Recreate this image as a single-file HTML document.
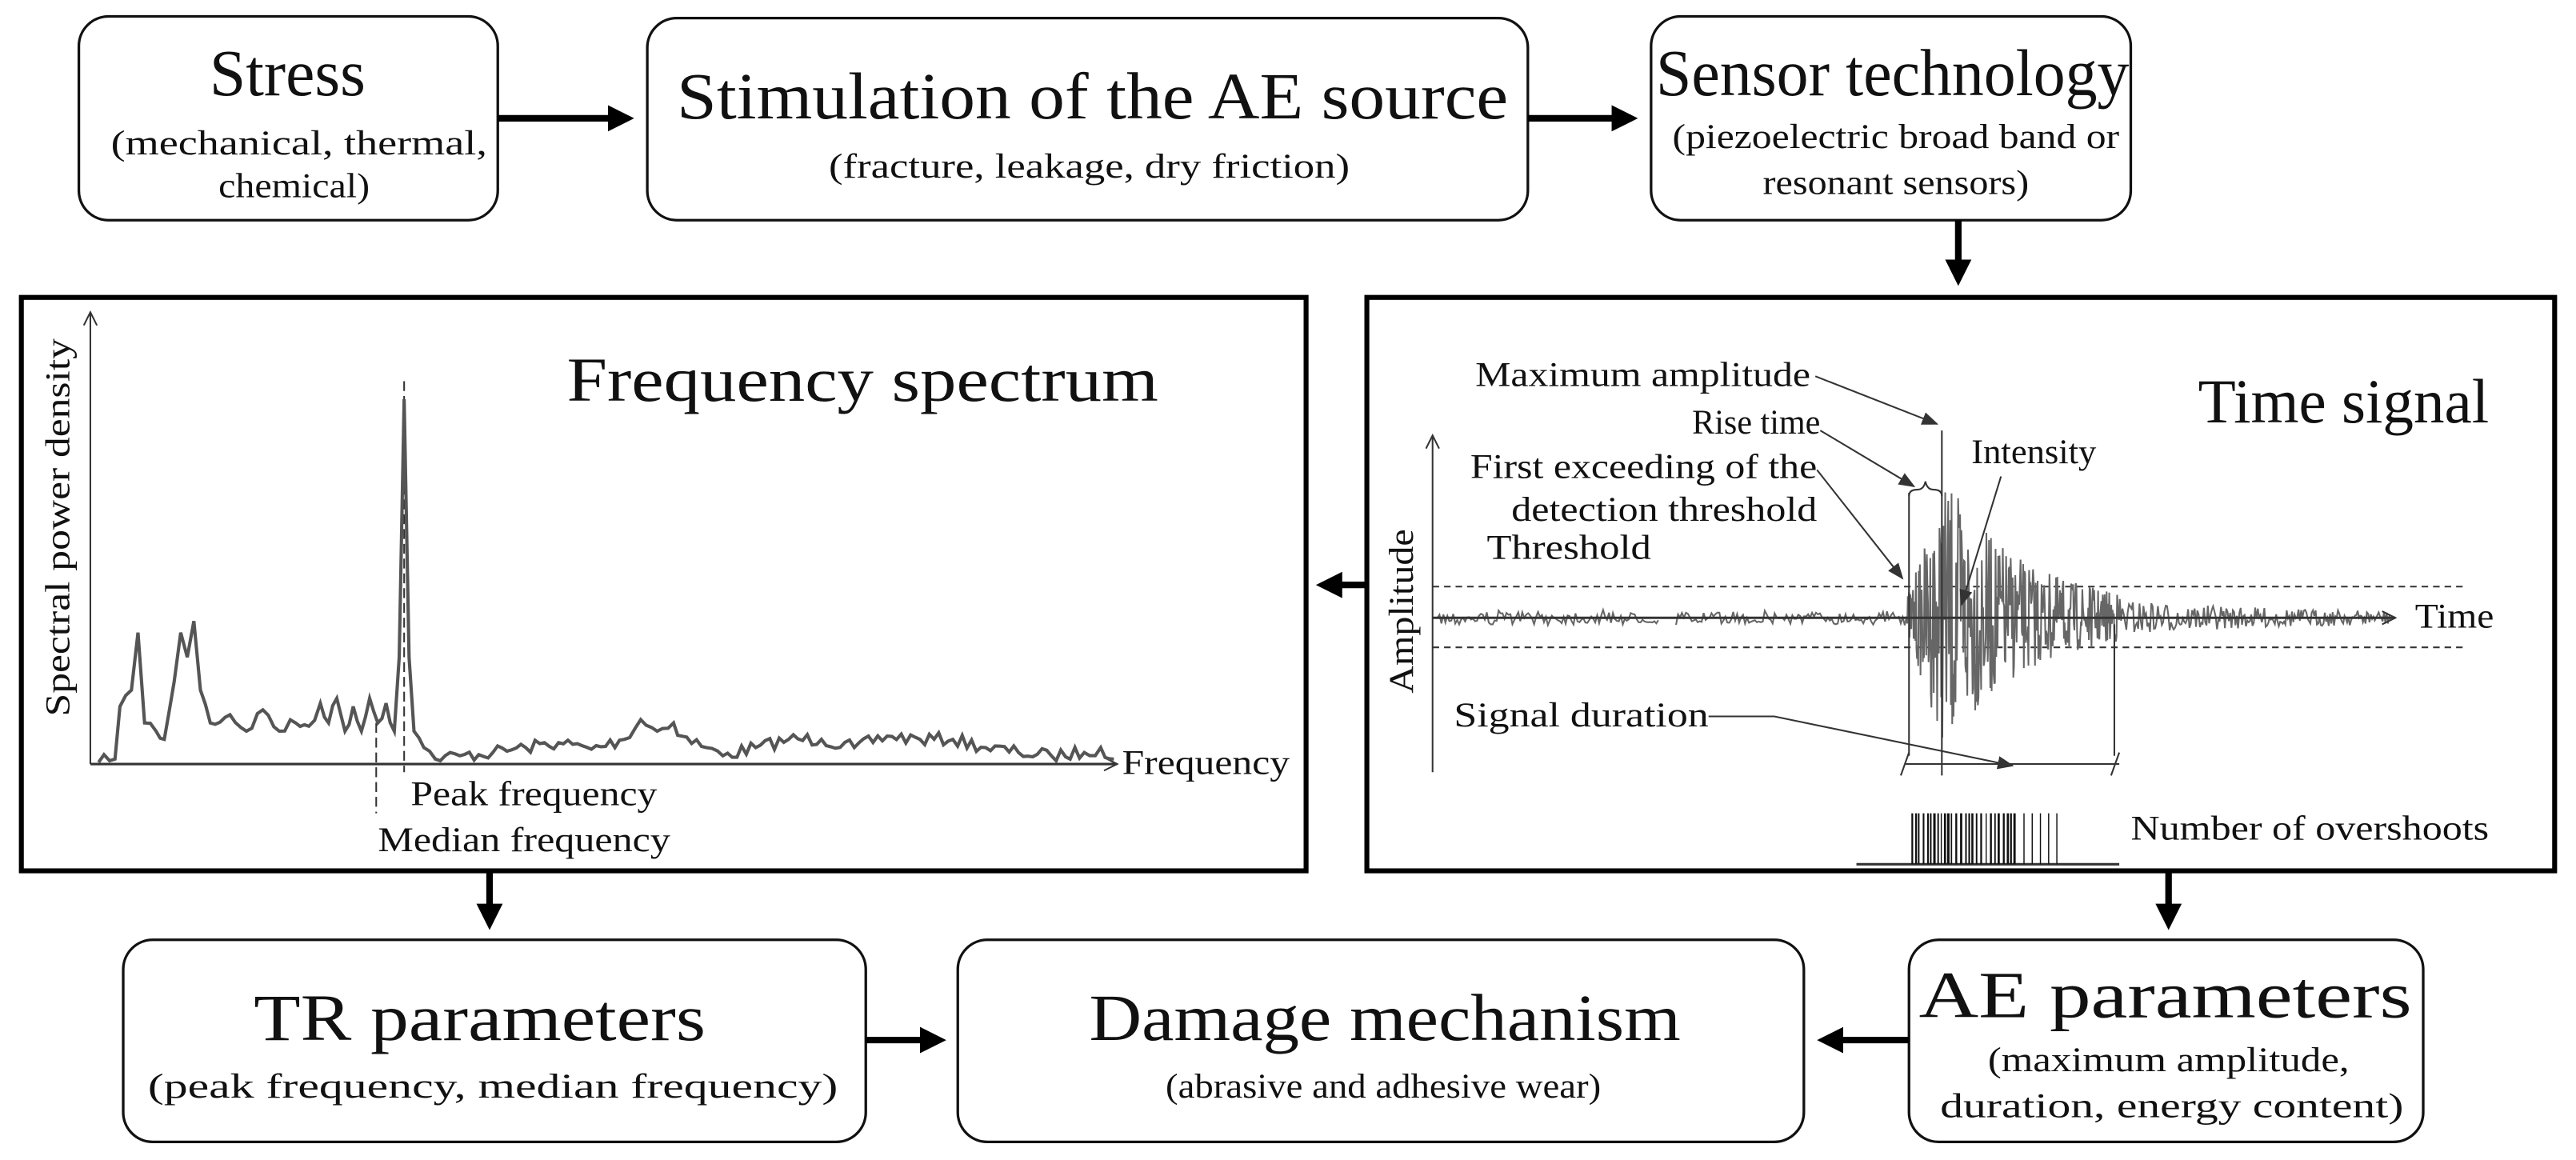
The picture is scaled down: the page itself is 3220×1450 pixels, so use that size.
<!DOCTYPE html>
<html><head><meta charset="utf-8"><style>
html,body{margin:0;padding:0;background:#fff;}
svg{display:block;}
text{font-family:"Liberation Serif",serif;fill:#111;}
</style></head><body>
<svg id="s" width="3220" height="1450" viewBox="0 0 1568 706" preserveAspectRatio="none" xmlns="http://www.w3.org/2000/svg">
<defs>
<marker id="ah" markerWidth="4" markerHeight="4" refX="2" refY="2" orient="auto" markerUnits="strokeWidth"><path d="M0,0 L4,2 L0,4 z" fill="#000"/></marker>
<marker id="sa" markerWidth="10" markerHeight="10" refX="9" refY="5" orient="auto" markerUnits="userSpaceOnUse"><path d="M0,1 L10,5 L0,9 z" fill="#333"/></marker>
<marker id="oa" markerWidth="10" markerHeight="10" refX="9" refY="5" orient="auto" markerUnits="userSpaceOnUse"><path d="M1,1 L9,5 L1,9" fill="none" stroke="#333" stroke-width="1"/></marker>
</defs>
<g fill="#fff" stroke="#111" stroke-width="1.6">
<rect x="48" y="10" width="255" height="124" rx="18"/>
<rect x="394" y="11" width="536" height="123" rx="18"/>
<rect x="1005" y="10" width="292" height="124" rx="18"/>
<rect x="75" y="572" width="452" height="123" rx="18"/>
<rect x="583" y="572" width="515" height="123" rx="18"/>
<rect x="1162" y="572" width="313" height="123" rx="18"/>
</g>
<g fill="none" stroke="#000" stroke-width="3">
<rect x="13" y="181" width="782" height="349"/>
<rect x="832" y="181" width="723" height="349"/>
</g>
<g stroke="#000" stroke-width="4" fill="none">
<line x1="303" y1="72" x2="378" y2="72" marker-end="url(#ah)"/>
<line x1="930" y1="72" x2="989" y2="72" marker-end="url(#ah)"/>
<line x1="1192" y1="134" x2="1192" y2="166" marker-end="url(#ah)"/>
<line x1="832" y1="356" x2="809" y2="356" marker-end="url(#ah)"/>
<line x1="298" y1="530" x2="298" y2="558" marker-end="url(#ah)"/>
<line x1="1320" y1="530" x2="1320" y2="558" marker-end="url(#ah)"/>
<line x1="527" y1="633" x2="568" y2="633" marker-end="url(#ah)"/>
<line x1="1162" y1="633" x2="1114" y2="633" marker-end="url(#ah)"/>
</g>
<g text-anchor="middle">
<text x="175" y="58" font-size="40" textLength="95" lengthAdjust="spacingAndGlyphs">Stress</text>
<text x="182" y="94" font-size="21" textLength="229" lengthAdjust="spacingAndGlyphs">(mechanical, thermal,</text>
<text x="179" y="120" font-size="21" textLength="92" lengthAdjust="spacingAndGlyphs">chemical)</text>
<text x="665" y="72" font-size="40" textLength="506" lengthAdjust="spacingAndGlyphs">Stimulation of the AE source</text>
<text x="663" y="108" font-size="21" textLength="317" lengthAdjust="spacingAndGlyphs">(fracture, leakage, dry friction)</text>
<text x="1152" y="58" font-size="40" textLength="288" lengthAdjust="spacingAndGlyphs">Sensor technology</text>
<text x="1154" y="90" font-size="21" textLength="272" lengthAdjust="spacingAndGlyphs">(piezoelectric broad band or</text>
<text x="1154" y="118" font-size="21" textLength="162" lengthAdjust="spacingAndGlyphs">resonant sensors)</text>
<text x="292" y="633" font-size="40" textLength="275" lengthAdjust="spacingAndGlyphs">TR parameters</text>
<text x="300" y="668" font-size="21" textLength="420" lengthAdjust="spacingAndGlyphs">(peak frequency, median frequency)</text>
<text x="843" y="633" font-size="40" textLength="360" lengthAdjust="spacingAndGlyphs">Damage mechanism</text>
<text x="842" y="668" font-size="21" textLength="265" lengthAdjust="spacingAndGlyphs">(abrasive and adhesive wear)</text>
<text x="1318" y="619" font-size="40" textLength="300" lengthAdjust="spacingAndGlyphs">AE parameters</text>
<text x="1320" y="652" font-size="21" textLength="220" lengthAdjust="spacingAndGlyphs">(maximum amplitude,</text>
<text x="1322" y="680" font-size="21" textLength="282" lengthAdjust="spacingAndGlyphs">duration, energy content)</text>
</g>
<g stroke="#333" stroke-width="1" fill="none">
<line x1="55" y1="465" x2="55" y2="190" marker-end="url(#oa)"/>
<line x1="55" y1="465" x2="680" y2="465" marker-end="url(#oa)" stroke-width="1.5"/>
<line x1="246" y1="232" x2="246" y2="470" stroke-dasharray="6,3"/>
<line x1="229" y1="440" x2="229" y2="495" stroke-dasharray="6,3"/>
</g>
<path id="spec" fill="none" stroke="#555" stroke-width="2"/>
<text x="345" y="244" font-size="38" textLength="360" lengthAdjust="spacingAndGlyphs">Frequency spectrum</text>
<text x="683" y="471" font-size="21" textLength="102" lengthAdjust="spacingAndGlyphs">Frequency</text>
<text x="250" y="490" font-size="21" textLength="150" lengthAdjust="spacingAndGlyphs">Peak frequency</text>
<text x="230" y="518" font-size="21" textLength="178" lengthAdjust="spacingAndGlyphs">Median frequency</text>
<text transform="translate(42,321) rotate(-90)" text-anchor="middle" font-size="21" textLength="230" lengthAdjust="spacingAndGlyphs">Spectral power density</text>
<g stroke="#333" stroke-width="1" fill="none">
<line x1="872" y1="470" x2="872" y2="265" marker-end="url(#oa)"/>
<line x1="872" y1="357" x2="1500" y2="357" stroke-dasharray="4,3"/>
<line x1="872" y1="394" x2="1500" y2="394" stroke-dasharray="4,3"/>
</g>
<path id="sig" fill="none" stroke="#666" stroke-width="1"/>
<g stroke="#333" stroke-width="1" fill="none">
<line x1="872" y1="376" x2="1458" y2="376" stroke-width="1.5" marker-end="url(#oa)"/>
<line x1="1162" y1="300" x2="1162" y2="460"/>
<line x1="1182" y1="262" x2="1182" y2="472"/>
<line x1="1287" y1="380" x2="1287" y2="460"/>
<line x1="1160" y1="465" x2="1290" y2="465"/>
<line x1="1157" y1="472" x2="1162" y2="458"/>
<line x1="1285" y1="472" x2="1290" y2="458"/>
<path d="M1162,302 q0,-4 5,-4 q4,0 5,-5 q1,5 5,5 q5,0 5,4"/>
<line x1="1105" y1="229" x2="1179" y2="258" marker-end="url(#sa)"/>
<line x1="1108" y1="262" x2="1165" y2="296" marker-end="url(#sa)"/>
<line x1="1106" y1="286" x2="1158" y2="352" marker-end="url(#sa)"/>
<line x1="1218" y1="290" x2="1194" y2="368" marker-end="url(#sa)"/>
<polyline points="1040,436 1080,436 1225,466" marker-end="url(#sa)"/>
<line x1="1130" y1="526" x2="1290" y2="526" stroke-width="1.5"/>
</g>
<g id="bars" stroke="#111" stroke-width="1"></g>
<text x="1338" y="257" font-size="38" textLength="177" lengthAdjust="spacingAndGlyphs">Time signal</text>
<text x="1102" y="235" text-anchor="end" font-size="21" textLength="204" lengthAdjust="spacingAndGlyphs">Maximum amplitude</text>
<text x="1108" y="264" text-anchor="end" font-size="21" textLength="78" lengthAdjust="spacingAndGlyphs">Rise time</text>
<text x="1106" y="291" text-anchor="end" font-size="21" textLength="211" lengthAdjust="spacingAndGlyphs">First exceeding of the</text>
<text x="1106" y="317" text-anchor="end" font-size="21" textLength="186" lengthAdjust="spacingAndGlyphs">detection threshold</text>
<text x="1200" y="282" font-size="21" textLength="76" lengthAdjust="spacingAndGlyphs">Intensity</text>
<text x="905" y="340" font-size="21" textLength="100" lengthAdjust="spacingAndGlyphs">Threshold</text>
<text x="1470" y="382" font-size="21" textLength="48" lengthAdjust="spacingAndGlyphs">Time</text>
<text x="885" y="442" font-size="21" textLength="155" lengthAdjust="spacingAndGlyphs">Signal duration</text>
<text x="1297" y="511" font-size="21" textLength="218" lengthAdjust="spacingAndGlyphs">Number of overshoots</text>
<text transform="translate(860,372) rotate(-90)" text-anchor="middle" font-size="21" textLength="100" lengthAdjust="spacingAndGlyphs">Amplitude</text>
</svg>
<script>
var seed=7;function r(){seed=(seed*16807)%2147483647;return seed/2147483647;}
var pts=[[60,464],[70,462],[73,430],[80,420],[84,385],[88,440],[95,445],[100,450],[106,415],[110,385],[114,400],[118,378],[122,420],[128,440],[140,435],[150,445],[160,432],[170,445],[180,440],[188,442],[195,428],[200,440],[205,425],[210,445],[215,430],[220,445],[225,425],[230,440],[235,428],[240,445],[243,400],[246,243],[249,400],[252,445],[258,455],[265,462],[280,460],[300,458],[320,455],[340,452],[360,456],[380,450],[390,438],[400,445],[410,440],[415,448],[430,455],[440,460],[460,455],[480,450],[500,450],[520,455],[540,448],[560,450],[580,450],[600,455],[620,458],[640,460],[660,458],[670,455],[678,462]];
var d="M"+pts[0];
for(var i=1;i<pts.length;i++){var a=pts[i-1],b=pts[i];var n=Math.max(1,Math.round((b[0]-a[0])/3));
for(var k=1;k<=n;k++){var t=k/n;var x=a[0]+(b[0]-a[0])*t,y=a[1]+(b[1]-a[1])*t;if(k<n&&Math.abs(b[1]-a[1])<60)y+=(r()-0.5)*8;if(y>463)y=463;d+=" L"+x.toFixed(1)+","+y.toFixed(1);}}
document.getElementById("spec").setAttribute("d",d);
var s="M875,376";var x=875;
while(x<1455){var A,st;if(x<1160){A=3+r()*2;st=1.2;}else if(x<1185){A=70*((x-1160)/25)+12;st=0.35;}else if(x<1290){A=75*Math.exp(-(x-1185)/45)+8;st=0.4;}else{A=8*Math.exp(-(x-1290)/90)+3;st=0.8;}
x+=st;if(x>1010&&x<1020)continue;var y=376+(r()*2-1)*A;s+=(x>1020&&x<1021.3?" M":" L")+x.toFixed(2)+","+y.toFixed(1);}
document.getElementById("sig").setAttribute("d",s);
var g=document.getElementById("bars"),h="";
for(var x=1164;x<1228;x+=1.6+r()*1.5){h+='<line x1="'+x+'" y1="495" x2="'+x+'" y2="526" stroke-width="'+(0.6+r()*0.9)+'"/>';}
[1232,1237,1242,1247,1252].forEach(function(x){h+='<line x1="'+x+'" y1="495" x2="'+x+'" y2="526" stroke-width="0.7"/>';});
g.innerHTML=h;
</script>
</body></html>
